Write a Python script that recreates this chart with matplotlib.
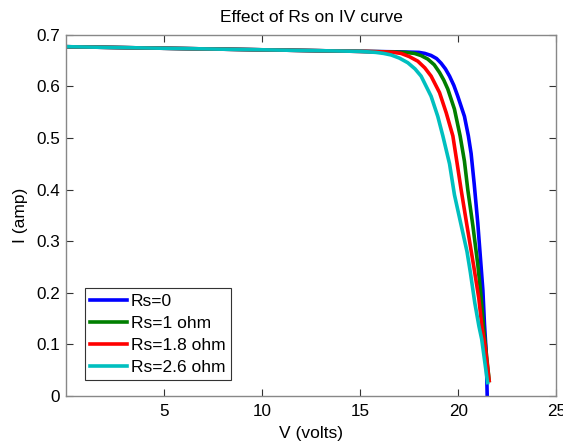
import matplotlib
matplotlib.use("Agg")
import matplotlib.pyplot as plt

plt.rcParams['font.family'] = ['Liberation Sans', 'DejaVu Sans']

labels = ["Rs=0", "Rs=1 ohm", "Rs=1.8 ohm", "Rs=2.6 ohm"]
colors = ["#0000ff", "#007f00", "#ff0000", "#00bfbf"]

v_rs0 = [0, 5, 10, 15, 17, 18, 18.3, 18.62, 18.9, 19.13, 19.35, 19.56, 19.78, 19.98, 20.32, 20.52, 20.66, 20.82, 21.0, 21.14, 21.26, 21.34, 21.43, 21.48]
i_rs0 = [0.677, 0.674, 0.671, 0.668, 0.667, 0.666, 0.664, 0.660, 0.654, 0.645, 0.634, 0.620, 0.602, 0.581, 0.542, 0.504, 0.470, 0.41, 0.335, 0.265, 0.205, 0.14, 0.084, 0.0]

v_rs1 = [0, 5, 10, 15, 16.5, 17.3, 17.77, 18.1, 18.45, 18.78, 19.05, 19.27, 19.47, 19.81, 20.1, 20.32, 20.49, 20.75, 21.0, 21.15, 21.29, 21.43, 21.58]
i_rs1 = [0.677, 0.674, 0.671, 0.668, 0.667, 0.666, 0.664, 0.660, 0.653, 0.642, 0.627, 0.612, 0.595, 0.556, 0.504, 0.455, 0.40, 0.33, 0.255, 0.20, 0.135, 0.084, 0.03]

v_rs18 = [0, 5, 10, 15, 16.2, 16.7, 17.09, 17.5, 17.94, 18.3, 18.62, 19.05, 19.39, 19.73, 19.95, 20.15, 20.45, 20.80, 21.05, 21.21, 21.36, 21.58]
i_rs18 = [0.677, 0.674, 0.671, 0.668, 0.667, 0.666, 0.664, 0.658, 0.649, 0.636, 0.620, 0.588, 0.549, 0.504, 0.45, 0.40, 0.33, 0.25, 0.19, 0.135, 0.10, 0.03]

v_rs26 = [0, 5, 10, 15, 15.8, 16.2, 16.58, 17.0, 17.43, 17.8, 18.11, 18.62, 18.96, 19.22, 19.56, 19.81, 20.1, 20.45, 20.62, 20.85, 21.06, 21.2, 21.5]
i_rs26 = [0.677, 0.674, 0.671, 0.668, 0.666, 0.664, 0.661, 0.655, 0.646, 0.634, 0.620, 0.581, 0.542, 0.504, 0.45, 0.39, 0.34, 0.28, 0.24, 0.18, 0.135, 0.11, 0.026]

series = [(v_rs0, i_rs0), (v_rs1, i_rs1), (v_rs18, i_rs18), (v_rs26, i_rs26)]

fig = plt.figure(figsize=(5.63, 4.41), dpi=100)
ax = fig.add_axes([0.117, 0.102, 0.871, 0.819])

for (v, i), lab, c in zip(series, labels, colors):
    ax.plot(v, i, color=c, lw=2.6, label=lab, solid_joinstyle='round')

ax.set_xlim(0, 25)
ax.set_ylim(0, 0.7)
ax.set_xticks([5, 10, 15, 20, 25])
ax.set_yticks([0, 0.1, 0.2, 0.3, 0.4, 0.5, 0.6, 0.7])
ax.set_yticklabels(["0", "0.1", "0.2", "0.3", "0.4", "0.5", "0.6", "0.7"])
ax.tick_params(direction='in', length=5, width=0.8, top=True, right=True,
               labelsize=12.3, colors='#333333', labelcolor='black')
ax.tick_params(axis='x', pad=6)
ax.tick_params(axis='y', pad=4)
for s in ax.spines.values():
    s.set_color('#888888')
    s.set_linewidth(1.0)

ax.set_title("Effect of Rs on IV curve", fontsize=12.5, pad=9)
ax.set_xlabel("V (volts)", fontsize=12.5, labelpad=5)
ax.set_ylabel("I (amp)", fontsize=12.5, labelpad=6)

leg = ax.legend(loc='lower left', bbox_to_anchor=(0.039, 0.044), borderaxespad=0,
                fontsize=12.5, handlelength=2.1, handletextpad=0.25,
                labelspacing=0.4, fancybox=False, framealpha=1,
                borderpad=0.3)
leg.get_frame().set_edgecolor('#333333')
leg.get_frame().set_linewidth(0.8)

fig.savefig("out.png", dpi=100)
